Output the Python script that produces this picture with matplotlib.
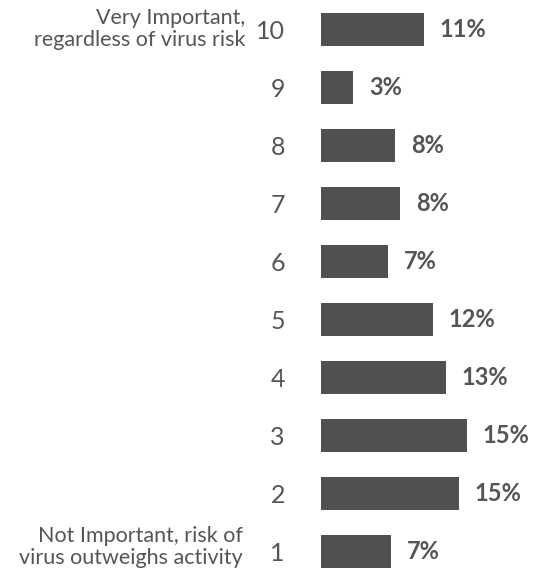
import matplotlib
matplotlib.use("Agg")
import matplotlib.pyplot as plt

# importance rating (10 = very important) and share of respondents
ratings = [10, 9, 8, 7, 6, 5, 4, 3, 2, 1]
shares = [10.9, 3.4, 7.8, 8.4, 7.1, 11.8, 13.2, 15.4, 14.6, 7.4]
top_note = "Very Important,\nregardless of virus risk"
bottom_note = "Not Important, risk of\nvirus outweighs activity"

bar_color = "#505050"
text_color = "#555555"
plt.rcParams["font.family"] = ["Lato", "DejaVu Sans"]

W, H = 544, 579
fig = plt.figure(figsize=(W / 100, H / 100), dpi=100)
left_px = 321
ax = fig.add_axes([left_px / W, 0, 1 - left_px / W, 1])

ax.barh(ratings, shares, height=0.57, color=bar_color)
ax.set_xlim(0, (W - left_px) / 9.45)
ax.set_ylim(0.526, 10.509)

for r, s in zip(ratings, shares):
    ax.annotate(f"{s:.0f}%", (s, r), xytext=(11.5, 0), textcoords="offset points",
                va="center", ha="left", fontsize=17, fontweight="bold",
                color=text_color)

ax.set_yticks(ratings)
ax.set_yticklabels([str(r) for r in ratings], fontsize=18, fontweight="normal",
                   color=text_color)
ax.tick_params(axis="y", length=0, pad=26)
ax.set_xticks([])
for sp in ax.spines.values():
    sp.set_visible(False)

fig.text(245 / W, 1 - 29 / H, top_note, ha="right", va="center", fontsize=15.5,
         color=text_color, linespacing=1.15)
fig.text(243 / W, 1 - 547 / H, bottom_note, ha="right", va="center", fontsize=15.5,
         color=text_color, linespacing=1.15)

fig.savefig("out.png", dpi=100)
